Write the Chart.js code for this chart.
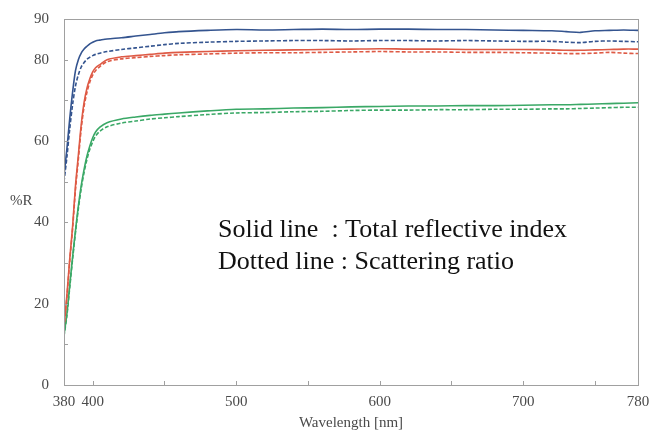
<!DOCTYPE html>
<html>
<head>
<meta charset="utf-8">
<script src="https://cdn.jsdelivr.net/npm/chart.js@4"></script>
<style>
  body{margin:0;background:#fff;}
  #box{width:650px;height:432px;}
</style>
</head>
<body>
<div id="box"><canvas id="myChart"></canvas></div>
<script>
'use strict';
// wavelengths (nm) for every sample
let wavelengths=[380,382,384,386,388,390,392,394,396,398,400,402,405,410,420,430,440,450,460,480,500,520,540,560,580,600,620,640,660,680,700,720,730,740,750,760,770,780];

// %R
let blueTotal=[51.5,58,65.5,72,77.3,80,81.6,82.6,83.3,83.9,84.3,84.6,84.8,85.1,85.4,85.8,86.2,86.6,86.9,87.2,87.4,87.3,87.4,87.5,87.4,87.5,87.5,87.4,87.4,87.3,87.2,87.1,86.9,86.7,87.1,87.2,87.3,87.2];
let blueScatter=[50,56,63,69,73.5,76.3,78.2,79.3,80.1,80.6,81,81.3,81.6,82,82.5,82.9,83.3,83.7,84,84.3,84.5,84.6,84.7,84.7,84.6,84.7,84.7,84.6,84.7,84.6,84.5,84.5,84.3,84.2,84.5,84.6,84.5,84.4];
let redTotal=[14.5,22,31,39,49,56.5,64,69.5,73,75.3,77,78,78.8,80,80.7,81,81.3,81.6,81.8,82,82.2,82.3,82.4,82.5,82.6,82.7,82.6,82.6,82.5,82.5,82.5,82.4,82.3,82.3,82.4,82.5,82.6,82.6];
let redScatter=[14,21.5,30.5,38.5,48,55.5,63,68.5,72,74.5,76.2,77.3,78.3,79.5,80.2,80.5,80.8,81,81.2,81.4,81.6,81.7,81.7,81.8,81.9,82,81.9,81.9,81.8,81.8,81.7,81.6,81.5,81.5,81.6,81.8,81.6,81.5];
let greenTotal=[12.3,17.5,24.5,31.5,38,44,49,53,56.3,58.8,60.8,62.2,63.4,64.5,65.4,65.9,66.3,66.6,66.9,67.4,67.8,67.9,68.1,68.2,68.4,68.5,68.6,68.6,68.7,68.7,68.8,68.9,68.9,69,69.1,69.2,69.3,69.4];
let greenScatter=[12,17,24,31,37.5,43.3,48.3,52.3,55.5,58,59.8,61.2,62.4,63.5,64.4,64.9,65.4,65.7,66,66.5,66.9,67,67.2,67.3,67.5,67.6,67.6,67.7,67.7,67.8,67.8,67.9,67.9,68,68.1,68.2,68.3,68.3];

let xTicks=[380,400,500,600,700,780];
let xMinor=[450,550,650,750];
let yTicks=[0,20,40,60,80,90];
let yMinor=[10,30,50,70];

let noteLines=['Solid line  : Total reflective index','Dotted line : Scattering ratio'];

let blueColor='#34548f';
let redColor='#de5a45';
let greenColor='#3aa866';

//Help function: pairs wavelengths with values
function makePoints(values){
  let pts=[];
  for(let i=0;i<wavelengths.length;i++){
    pts.push({x:wavelengths[i], y:values[i]});
  }
  return pts;
}

function makeSet(name, values, color, dashed){
  return {
    label:name,
    data:makePoints(values),
    borderColor:color,
    backgroundColor:color,
    borderWidth:1.6,
    borderDash:dashed ? [4,2] : [],
    pointRadius:0,
    tension:0.3,
    fill:false
  };
}

// frame, inward ticks, %R label and the note text
let extras={
  id:'extras',
  afterDraw(chart){
    let ctx=chart.ctx;
    let area=chart.chartArea;
    let xs=chart.scales.x;
    let ys=chart.scales.y;
    ctx.save();
    ctx.strokeStyle='#a0a0a0';
    ctx.lineWidth=1;
    ctx.strokeRect(area.left+0.5, area.top+0.5, area.right-area.left, area.bottom-area.top);

    ctx.beginPath();
    xTicks.concat(xMinor).forEach(function(v){
      if(v===380 || v===780) return;
      let px=Math.round(xs.getPixelForValue(v))+0.5;
      ctx.moveTo(px, area.bottom);
      ctx.lineTo(px, area.bottom-4);
    });
    yTicks.concat(yMinor).forEach(function(v){
      if(v===0 || v===90) return;
      let py=Math.round(ys.getPixelForValue(v))+0.5;
      ctx.moveTo(area.left, py);
      ctx.lineTo(area.left+4, py);
    });
    ctx.stroke();

    ctx.fillStyle='#4a4a4a';
    ctx.font='15px "Liberation Serif", serif';
    ctx.textAlign='left';
    ctx.textBaseline='alphabetic';
    ctx.fillText('%R', 10, 205);

    ctx.fillStyle='#111';
    ctx.font='26px "Liberation Serif", serif';
    ctx.fillText(noteLines[0], 218, 237);
    ctx.fillText(noteLines[1], 218, 269);
    ctx.restore();
  }
};

let ctx=document.getElementById('myChart').getContext('2d');
let myChart=new Chart(ctx, {
  type:'line',
  data:{
    datasets:[
      makeSet('Blue total', blueTotal, blueColor, false),
      makeSet('Blue scattering', blueScatter, blueColor, true),
      makeSet('Red total', redTotal, redColor, false),
      makeSet('Red scattering', redScatter, redColor, true),
      makeSet('Green total', greenTotal, greenColor, false),
      makeSet('Green scattering', greenScatter, greenColor, true)
    ]
  },
  options:{
    responsive:true,
    maintainAspectRatio:false,
    animation:false,
    layout:{padding:{left:0, right:12, top:19, bottom:0}},
    plugins:{legend:{display:false}, tooltip:{enabled:false}},
    scales:{
      x:{
        type:'linear',
        min:380,
        max:780,
        afterBuildTicks:function(scale){
          scale.ticks=xTicks.map(function(v){return {value:v};});
        },
        afterFit:function(scale){ scale.height=47; },
        grid:{display:false},
        border:{color:'#a0a0a0'},
        ticks:{
          color:'#4a4a4a',
          font:{family:'"Liberation Serif", serif', size:15},
          padding:0,
          maxRotation:0,
          autoSkip:false
        },
        title:{
          display:true,
          text:'Wavelength [nm]',
          color:'#4a4a4a',
          font:{family:'"Liberation Serif", serif', size:15},
          padding:{top:4, bottom:0}
        }
      },
      y:{
        min:0,
        max:90,
        afterBuildTicks:function(scale){
          scale.ticks=yTicks.map(function(v){return {value:v};});
        },
        afterFit:function(scale){ scale.width=64; },
        grid:{display:false},
        border:{color:'#a0a0a0'},
        ticks:{
          color:'#4a4a4a',
          font:{family:'"Liberation Serif", serif', size:15},
          padding:7,
          autoSkip:false
        }
      }
    }
  },
  plugins:[extras]
});
</script>
</body>
</html>
